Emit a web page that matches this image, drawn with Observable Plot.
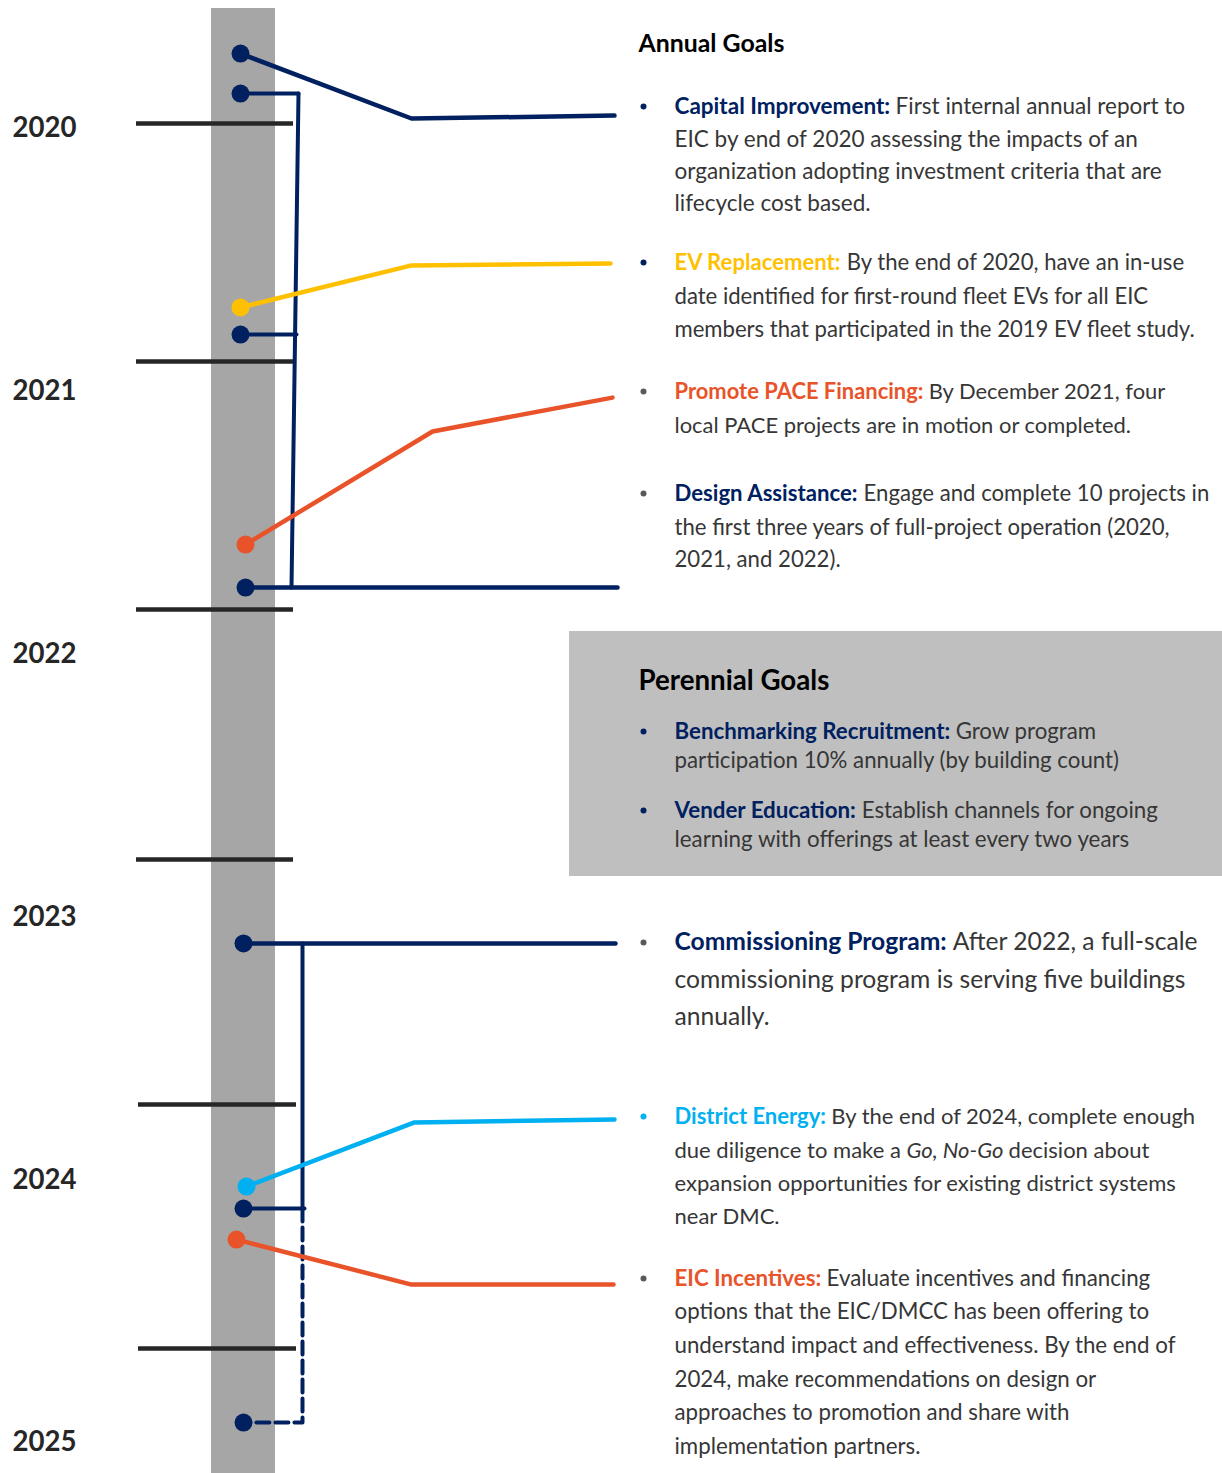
<!DOCTYPE html>
<html>
<head>
<meta charset="utf-8">
<script src="https://cdn.jsdelivr.net/npm/d3@7"></script>
<script src="https://cdn.jsdelivr.net/npm/@observablehq/plot@0.6"></script>
<style>
  html, body { margin: 0; padding: 0; background: #fff; }
  #chart svg { display: block; }
</style>
</head>
<body>
<div id="chart"></div>
<script>
// ---------------- colours & font ----------------
const FONT = "Lato";
const NAVY = "#002060", YELLOW = "#FFC000", ORANGE = "#E9532A", CYAN = "#00B0F0";
const BODY = "#363636", DARK = "#262626", BULLETGRAY = "#595959";

// ---------------- data ----------------
const years = [2020, 2021, 2022, 2023, 2024, 2025];
const separatorDates = [2019.981, 2020.887, 2021.830, 2022.782, 2023.714, 2024.642];

const goalNames   = ["Capital Improvement", "EV Replacement", "Promote PACE Financing", "Design Assistance",
                     "Commissioning Program", "District Energy", "EIC Incentives"];
const goalColors  = [NAVY, YELLOW, ORANGE, NAVY, NAVY, CYAN, ORANGE];
// milestone date of each goal (fractional year)
const goalDate      = [2019.715, 2020.681, 2021.583, 2021.747, 2023.101, 2024.026, 2024.228];
// date level where each connector bends and where it reaches its description
const goalElbowDate = [2019.962, 2020.521, 2021.153, 2021.747, 2023.101, 2023.782, 2024.399];
const goalEndDate   = [2019.951, 2020.514, 2021.024, 2021.747, 2023.101, 2023.771, 2024.399];
// multi-year goals: checkpoints bracketed together
const designCheckpoints        = [2019.867, 2020.784, 2021.747];
const commissioningCheckpoints = [2023.101, 2024.110];
const commissioningFuture      = [2024.110, 2024.924];

// text content
const annualTitle = "Annual Goals";
const perennialTitle = "Perennial Goals";
const textBlocks = [
  {lead: "Capital Improvement:", color: NAVY, bullet: NAVY,
   lines: ["First internal annual report to", "EIC by end of 2020 assessing the impacts of an",
           "organization adopting investment criteria that are", "lifecycle cost based."]},
  {lead: "EV Replacement:", color: YELLOW, bullet: NAVY,
   lines: ["By the end of 2020, have an in-use", "date identified for first-round fleet EVs for all EIC",
           "members that participated in the 2019 EV fleet study."]},
  {lead: "Promote PACE Financing:", color: ORANGE, bullet: BULLETGRAY,
   lines: ["By December 2021, four", "local PACE projects are in motion or completed."]},
  {lead: "Design Assistance:", color: NAVY, bullet: BULLETGRAY,
   lines: ["Engage and complete 10 projects in", "the first three years of full-project operation (2020,",
           "2021, and 2022)."]},
  {lead: "Benchmarking Recruitment:", color: NAVY, bullet: NAVY,
   lines: ["Grow program", "participation 10% annually (by building count)"]},
  {lead: "Vender Education:", color: NAVY, bullet: NAVY,
   lines: ["Establish channels for ongoing", "learning with offerings at least every two years"]},
  {lead: "Commissioning Program:", color: NAVY, bullet: BULLETGRAY,
   lines: ["After 2022, a full-scale", "commissioning program is serving five buildings", "annually."]},
  {lead: "District Energy:", color: CYAN, bullet: CYAN,
   lines: ["By the end of 2024, complete enough", "due diligence to make a *Go, No-Go* decision about",
           "expansion opportunities for existing district systems", "near DMC."]},
  {lead: "EIC Incentives:", color: ORANGE, bullet: BULLETGRAY,
   lines: ["Evaluate incentives and financing", "options that the EIC/DMCC has been offering to",
           "understand impact and effectiveness. By the end of", "2024, make recommendations on design or",
           "approaches to promotion and share with", "implementation partners."]}
];

// ---------------- layout (pixels) ----------------
const W = 1222, H = 1473;
const yRange = [128, 1442];                                  // pixel positions of 2020 and 2025
const toDate = d3.scaleLinear(yRange, [years[0], years[years.length - 1]]); // pixel -> date (layout helper)
const connectorLayout = [                                    // dot x, elbow x, end x
  [240, 411, 614], [240, 411, 610], [245, 432, 612], [245, 245, 617],
  [243, 243, 615], [246, 414, 614], [236, 411, 613]
];
const blockLayout = [  // line centre y (px), reference line index, reference width (px)
  {ys: [106, 139, 171, 203], ref: 0, w: 511},
  {ys: [262, 296, 329], ref: 2, w: 521},
  {ys: [391, 425], ref: 0, w: 492},
  {ys: [493, 527, 559], ref: 0, w: 535},
  {ys: [731, 760], ref: 1, w: 446},
  {ys: [810, 839], ref: 0, w: 484},
  {ys: [942, 980, 1017], ref: 0, w: 524},
  {ys: [1116, 1150, 1183, 1216], ref: 0, w: 522},
  {ys: [1278, 1311, 1345, 1379, 1412, 1446], ref: 2, w: 502}
];
const TEXT_X = 674, BULLET_X = 643;

// ---------------- text measurement ----------------
const ctx = document.createElement("canvas").getContext("2d");
function measure(t, size, weight, style) {
  ctx.font = `${style} ${weight} ${size}px ${FONT}`;
  return ctx.measureText(t).width;
}
function lineSegments(block, i) {
  const segs = [];
  if (i === 0) segs.push({text: block.lead + " ", weight: "bold", style: "normal", fill: block.color});
  const parts = block.lines[i].split("*");
  parts.forEach((p, k) => {
    if (p === "") return;
    segs.push({text: p, weight: "normal", style: k % 2 ? "italic" : "normal", fill: BODY});
  });
  for (let k = 1; k < segs.length; k++) {
    const m = segs[k].text.match(/^\s+/);
    if (m) { segs[k - 1].text += m[0]; segs[k].text = segs[k].text.slice(m[0].length); }
  }
  return segs;
}
const textRows = [];
const bulletRows = [];
textBlocks.forEach((block, b) => {
  const lay = blockLayout[b];
  const refSegs = lineSegments(block, lay.ref);
  const w20 = d3.sum(refSegs, s => measure(s.text, 20, s.weight, s.style));
  const size = 20 * lay.w / w20;
  block.lines.forEach((_, i) => {
    let off = 0;
    for (const s of lineSegments(block, i)) {
      textRows.push({...s, text: s.text.trimEnd(), size, x: TEXT_X + off, y: toDate(lay.ys[i])});
      off += measure(s.text, size, s.weight, s.style);
    }
  });
  bulletRows.push({x: BULLET_X, y: toDate(lay.ys[0]), fill: block.bullet});
});
const headingRows = [
  {text: annualTitle, x: 638, y: toDate(44), size: 22 * 146 / measure(annualTitle, 22, "bold", "normal")},
  {text: perennialTitle, x: 638, y: toDate(681), size: 22 * 191 / measure(perennialTitle, 22, "bold", "normal")}
];
const yearSize = 26 * 64 / measure("2020", 26, "bold", "normal");

// ---------------- geometry rows built from data ----------------
const connectorRows = goalNames.flatMap((g, i) => {
  const [x0, x1, x2] = connectorLayout[i];
  return [
    {goal: g, color: goalColors[i], x: x0, y: goalDate[i]},
    {goal: g, color: goalColors[i], x: x1, y: goalElbowDate[i]},
    {goal: g, color: goalColors[i], x: x2, y: goalEndDate[i]}
  ];
});
const bracketRows = [
  {k: "d0", x: 240, y: designCheckpoints[0]}, {k: "d0", x: 298, y: designCheckpoints[0]},
  {k: "d1", x: 298, y: designCheckpoints[0]}, {k: "d1", x: 291, y: designCheckpoints[2]},
  {k: "d2", x: 240, y: designCheckpoints[1]}, {k: "d2", x: 296, y: designCheckpoints[1]},
  {k: "c1", x: 302, y: commissioningCheckpoints[0]}, {k: "c1", x: 302, y: commissioningCheckpoints[1]},
  {k: "c2", x: 243, y: commissioningCheckpoints[1]}, {k: "c2", x: 304, y: commissioningCheckpoints[1]}
];
const dashedRows = [
  {x: 302, y: commissioningFuture[0]}, {x: 302, y: commissioningFuture[1]}, {x: 243, y: commissioningFuture[1]}
];
const dotRows = [
  ...goalNames.map((g, i) => ({x: connectorLayout[i][0], y: goalDate[i], color: goalColors[i]})),
  {x: 240, y: designCheckpoints[0], color: NAVY},
  {x: 240, y: designCheckpoints[1], color: NAVY},
  {x: 243, y: commissioningCheckpoints[1], color: NAVY},
  {x: 243, y: commissioningFuture[1], color: NAVY}
];

const textMark = (rows, weight, style) => Plot.text(rows.filter(d => d.weight === weight && d.style === style), {
  x: "x", y: "y", text: "text", fill: "fill", fontSize: "size",
  fontWeight: weight, fontStyle: style, textAnchor: "start", lineAnchor: "middle"
});

const chart = Plot.plot({
  width: W, height: H, margin: 0,
  x: {domain: [0, W], range: [0, W], axis: null},
  y: {domain: [years[0], years[years.length - 1]], range: yRange, axis: null},
  color: {type: "identity"},
  style: {fontFamily: FONT, background: "#fff", overflow: "visible"},
  marks: [
    Plot.rect([{x1: 211, x2: 275, y1: toDate(8), y2: toDate(H)}], {x1: "x1", x2: "x2", y1: "y1", y2: "y2", fill: "#a6a6a6"}),
    Plot.rect([{x1: 569, x2: W, y1: toDate(631), y2: toDate(876)}], {x1: "x1", x2: "x2", y1: "y1", y2: "y2", fill: "#bfbfbf"}),
    Plot.ruleY(separatorDates.slice(0, 4), {x1: 136, x2: 293, stroke: DARK, strokeWidth: 4.5}),
    Plot.ruleY(separatorDates.slice(4), {x1: 138, x2: 296, stroke: DARK, strokeWidth: 4.5}),
    Plot.text(years, {x: 12, y: d => d, text: d => String(d), fontSize: yearSize, fontWeight: "bold",
                      fill: DARK, textAnchor: "start", lineAnchor: "middle"}),
    Plot.line(bracketRows, {x: "x", y: "y", z: "k", stroke: NAVY, strokeWidth: 4}),
    Plot.line(dashedRows, {x: "x", y: "y", stroke: NAVY, strokeWidth: 4, strokeDasharray: "13,6"}),
    Plot.line(connectorRows, {x: "x", y: "y", z: "goal", stroke: "color", strokeWidth: 4.5}),
    Plot.dot(dotRows, {x: "x", y: "y", r: 9, fill: "color"}),
    Plot.dot(bulletRows, {x: "x", y: "y", r: 3, fill: "fill"}),
    Plot.text(headingRows, {x: "x", y: "y", text: "text", fontSize: "size", fontWeight: "bold",
                            fill: "#000", textAnchor: "start", lineAnchor: "middle"}),
    textMark(textRows, "bold", "normal"),
    textMark(textRows, "normal", "normal"),
    textMark(textRows, "normal", "italic")
  ]
});
document.getElementById("chart").appendChild(chart);
</script>
</body>
</html>
